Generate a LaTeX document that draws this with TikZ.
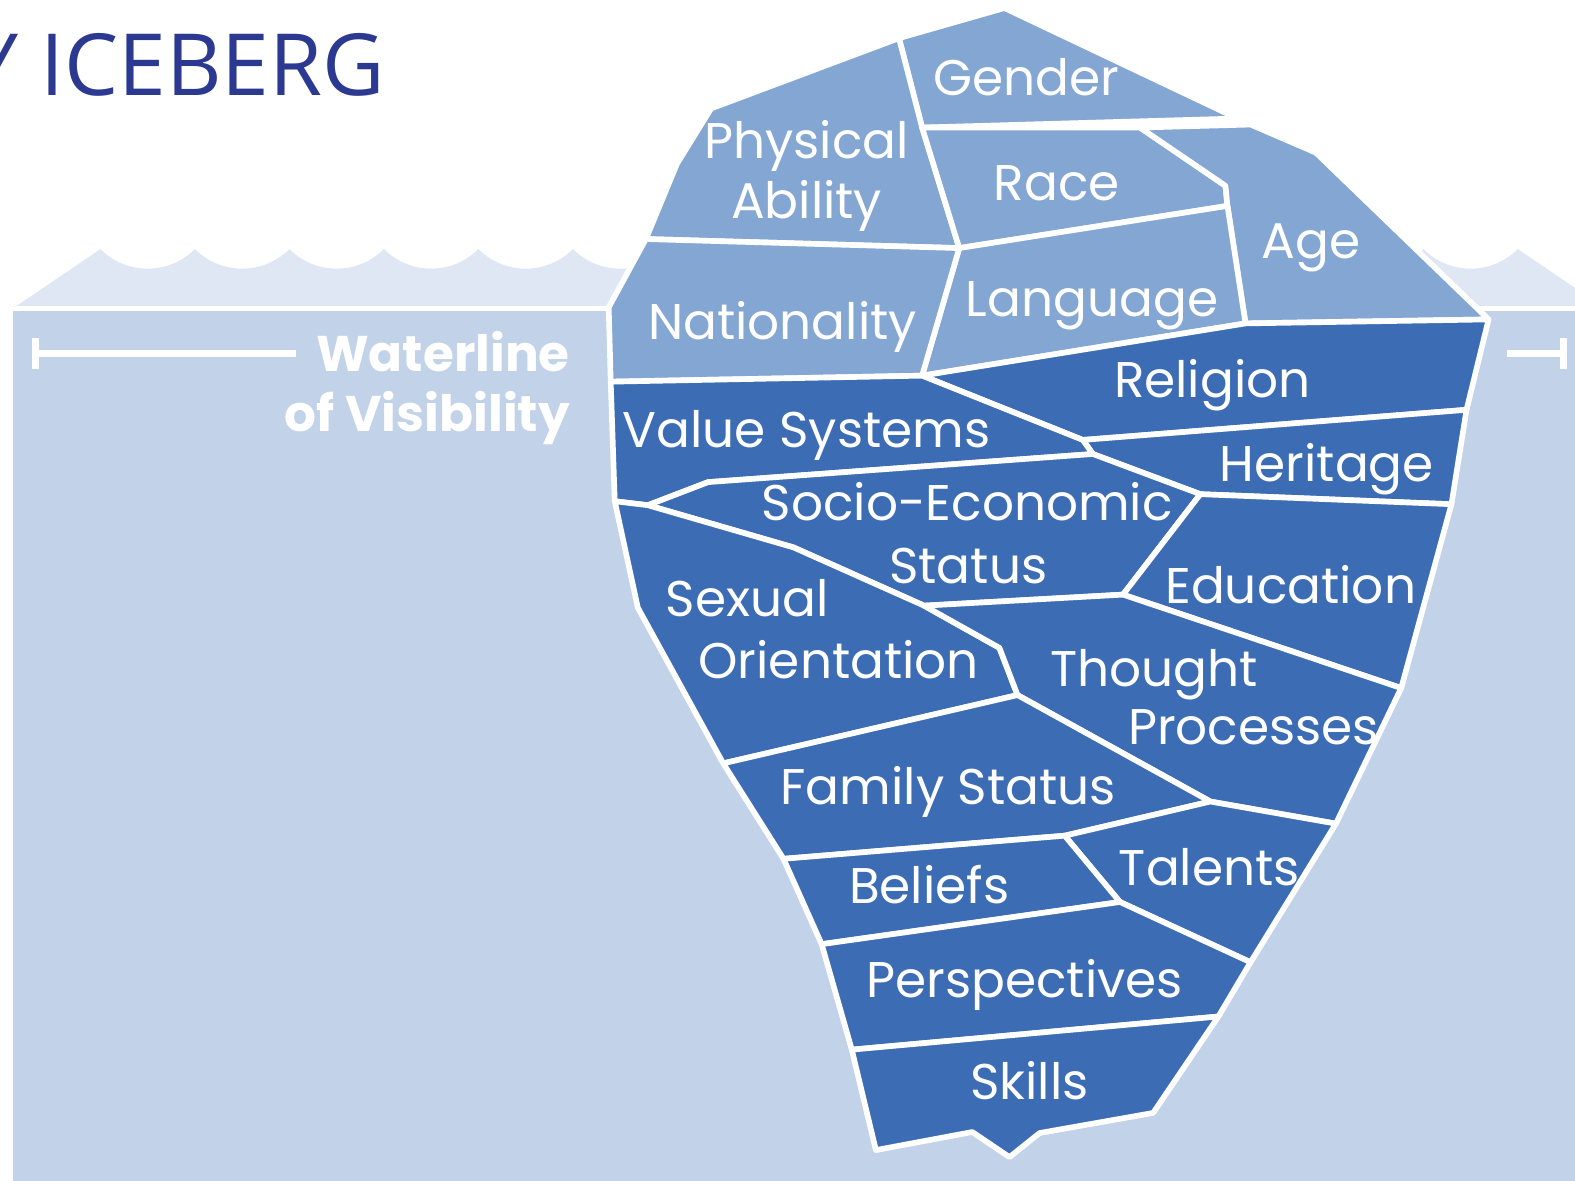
\documentclass[tikz,border=0pt]{standalone}
\usepackage{fontspec}
\setmainfont{Poppins}
\newfontfamily\titlefont{Open Sans}
\definecolor{seatop}{HTML}{DEE7F3}
\definecolor{seaface}{HTML}{C2D2E8}
\definecolor{icelight}{HTML}{84A6D3}
\definecolor{icedark}{HTML}{3C6DB4}
\definecolor{titleblue}{HTML}{2B3990}
\begin{document}
\begin{tikzpicture}[x=0.1mm,y=-0.1mm]
\tikzstyle{every node}+=[inner sep=0pt]
\tikzstyle{upper}=[draw=white,line width=1.6pt,line join=round,fill=icelight]
\tikzstyle{lower}=[draw=white,line width=1.6pt,line join=round,fill=icedark]
\tikzstyle{lbl}=[text=white,anchor=base,font=\fontsize{14.2}{17}\selectfont]
\tikzstyle{wlbl}=[text=white,anchor=base east,font=\fontsize{14.2}{17}\selectfont\bfseries]
\tikzstyle{wline}=[draw=white,line width=2pt]
\useasboundingbox (0,0) rectangle (1568,1175);
\fill[white] (0,0) rectangle (1568,1175);
\draw (384,95) node[anchor=base east,text=titleblue,font=\fontsize{24.3}{28}\titlefont] (title) {Y ICEBERG};
\fill[seatop] (13,307) -- (100,248) \foreach \i in {1,...,15} { .. controls +(26,26) and +(-26,26) .. ++(94.07,0) } -- (1598,307) -- cycle;
\fill[seaface] (13,307) rectangle (1600,1180);
\draw[white,line width=1.4pt] (13,307) -- (1600,307);
\draw[wline] (35,352) -- (295,352);
\draw[wline] (35,337) -- (35,367);
\draw[wline] (1500,352) -- (1557,352);
\draw[wline] (1557,337) -- (1557,367);
\draw (568,370) node[wlbl] (water1) {Waterline};
\draw (568,430) node[wlbl] (water2) {of Visibility};
\coordinate (top) at (1000,8);
\coordinate (pg) at (895,38);
\coordinate (pa1) at (708,108);
\coordinate (pa2) at (674,163);
\coordinate (pn) at (643,238);
\coordinate (gr) at (918,127);
\coordinate (ge) at (1232,118);
\coordinate (ra) at (1135,127);
\coordinate (ag1) at (1245,124);
\coordinate (ag2) at (1310,152);
\coordinate (rc1) at (1220,185);
\coordinate (rc2) at (1222,205);
\coordinate (pl) at (955,247);
\coordinate (nl) at (918,374);
\coordinate (la) at (1240,322);
\coordinate (ar) at (1482,318);
\coordinate (nw) at (606,306);
\coordinate (nv) at (608,380);
\coordinate (rh) at (1460,408);
\coordinate (jr) at (1078,438);
\coordinate (jv) at (1088,452);
\coordinate (he) at (1195,492);
\coordinate (hr) at (1445,502);
\coordinate (ed) at (1118,592);
\coordinate (et) at (1395,685);
\coordinate (st) at (920,603);
\coordinate (vs) at (612,499);
\coordinate (tip) at (645,503);
\coordinate (so1) at (705,480);
\coordinate (so2) at (790,545);
\coordinate (sx1) at (995,645);
\coordinate (sf) at (1013,692);
\coordinate (sxl) at (635,605);
\coordinate (fl) at (720,760);
\coordinate (tf) at (1205,798);
\coordinate (tt) at (1330,820);
\coordinate (fb) at (1060,832);
\coordinate (bl) at (780,855);
\coordinate (bt) at (1115,898);
\coordinate (tp) at (1245,958);
\coordinate (pb) at (818,940);
\coordinate (ps) at (848,1045);
\coordinate (pr) at (1213,1012);
\coordinate (sk1) at (1148,1108);
\coordinate (sk2) at (1035,1128);
\coordinate (sk3) at (1005,1152);
\coordinate (sk4) at (968,1127);
\coordinate (sk5) at (872,1145);
\draw[upper] (pg) -- (top) -- (ge) -- (gr) -- cycle;
\draw[upper] (pa1) -- (pg) -- (gr) -- (pl) -- (pn) -- (pa2) -- cycle;
\draw[upper] (gr) -- (ra) -- (rc1) -- (rc2) -- (pl) -- cycle;
\draw[upper] (ra) -- (ag1) -- (ag2) -- (ar) -- (la) -- (rc2) -- (rc1) -- cycle;
\draw[upper] (pl) -- (rc2) -- (la) -- (nl) -- cycle;
\draw[upper] (pn) -- (pl) -- (nl) -- (nv) -- (nw) -- cycle;
\draw[lower] (nl) -- (la) -- (ar) -- (rh) -- (jr) -- cycle;
\draw[lower] (jr) -- (rh) -- (hr) -- (he) -- (jv) -- cycle;
\draw[lower] (nv) -- (nl) -- (jr) -- (jv) -- (so1) -- (tip) -- (vs) -- cycle;
\draw[lower] (tip) -- (so1) -- (jv) -- (he) -- (ed) -- (st) -- (so2) -- cycle;
\draw[lower] (he) -- (hr) -- (et) -- (ed) -- cycle;
\draw[lower] (vs) -- (tip) -- (so2) -- (st) -- (sx1) -- (sf) -- (fl) -- (sxl) -- cycle;
\draw[lower] (st) -- (ed) -- (et) -- (tt) -- (tf) -- (sf) -- (sx1) -- cycle;
\draw[lower] (fl) -- (sf) -- (tf) -- (fb) -- (bl) -- cycle;
\draw[lower] (fb) -- (tf) -- (tt) -- (tp) -- (bt) -- cycle;
\draw[lower] (bl) -- (fb) -- (bt) -- (pb) -- cycle;
\draw[lower] (pb) -- (bt) -- (tp) -- (pr) -- (ps) -- cycle;
\draw[lower] (ps) -- (pr) -- (sk1) -- (sk2) -- (sk3) -- (sk4) -- (sk5) -- cycle;
\draw (1022,95) node[lbl] (gender) {Gender};
\draw (803,158) node[lbl] (phys1) {Physical};
\draw (803,218) node[lbl] (phys2) {Ability};
\draw (1052,200) node[lbl] (race) {Race};
\draw (1305,257) node[lbl] (age) {Age};
\draw (779,338) node[lbl] (nation) {Nationality};
\draw (1087,315) node[lbl] (lang) {Language};
\draw (1207,396) node[lbl] (relig) {Religion};
\draw (803,446) node[lbl] (values) {Value Systems};
\draw (1321,479) node[lbl] (herit) {Heritage};
\draw (963,518) node[lbl] (socio1) {Socio-Economic};
\draw (964,581) node[lbl] (socio2) {Status};
\draw (1285,601) node[lbl] (educ) {Education};
\draw (744,614) node[lbl] (sexual) {Sexual};
\draw (835,675) node[lbl] (orient) {Orientation};
\draw (1149,683) node[lbl] (thought) {Thought};
\draw (1248,741) node[lbl] (process) {Processes};
\draw (944,801) node[lbl] (family) {Family Status};
\draw (925,899) node[lbl] (beliefs) {Beliefs};
\draw (1204,882) node[lbl] (talents) {Talents};
\draw (1020,993) node[lbl] (persp) {Perspectives};
\draw (1025,1095) node[lbl] (skills) {Skills};
\end{tikzpicture}
\end{document}
